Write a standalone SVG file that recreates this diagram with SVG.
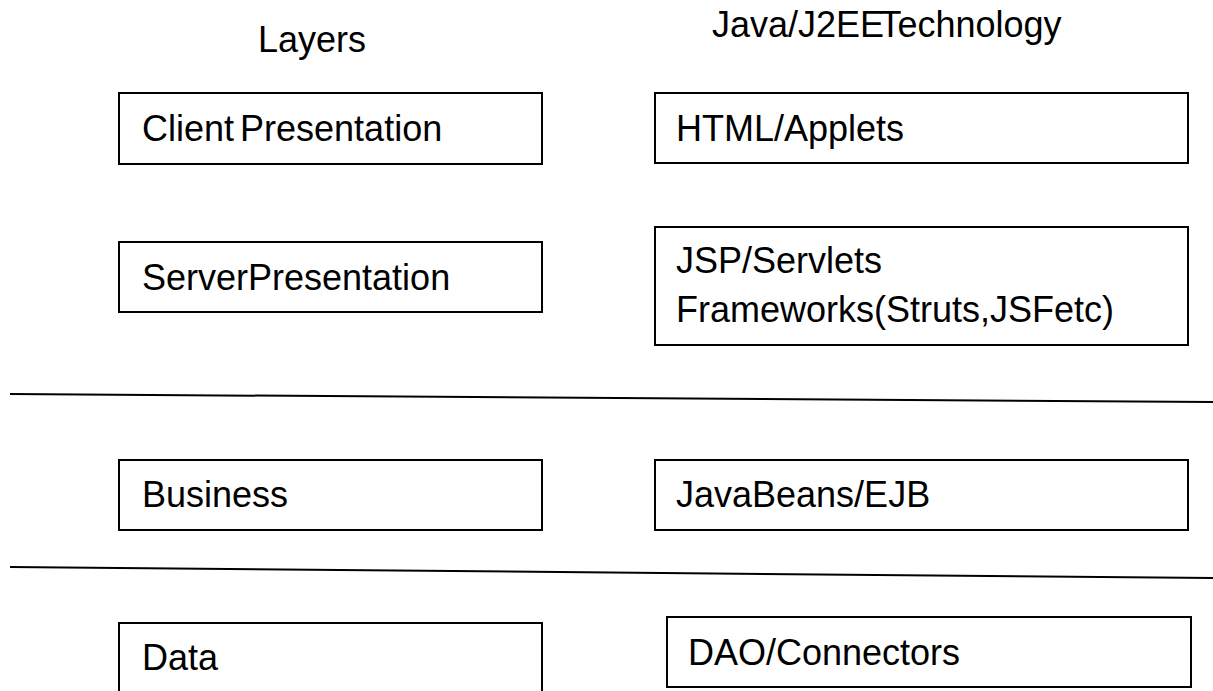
<svg xmlns="http://www.w3.org/2000/svg" width="1213" height="691" viewBox="0 0 1213 691">
<style>
.box{fill:#fff;stroke:#000;stroke-width:2}
.t{font-family:"Liberation Sans",Arial,sans-serif;font-size:36px;fill:#000}
.tight{word-spacing:-10px}
.sep{stroke:#000;stroke-width:2;fill:none}
</style>
<rect width="1213" height="691" fill="#fff"/>
<g id="titles">
<text class="t" x="258" y="52">Layers</text>
<text class="t" x="712" y="37" style="word-spacing:-14px">Java/J2EE Technology</text>
</g>
<g id="connectors">
<line class="sep" x1="10" y1="394" x2="1213" y2="402"/>
<line class="sep" x1="10" y1="567" x2="1213" y2="578"/>
</g>
<g id="client-presentation">
<rect class="box" x="119" y="93" width="423" height="71"/>
<text class="t" x="142" y="141" style="word-spacing:-4px">Client Presentation</text>
</g>
<g id="html-applets">
<rect class="box" x="655" y="93" width="533" height="70"/>
<text class="t" x="676" y="141">HTML/Applets</text>
</g>
<g id="server-presentation">
<rect class="box" x="119" y="242" width="423" height="70"/>
<text class="t tight" x="142" y="290">Server Presentation</text>
</g>
<g id="jsp-servlets">
<rect class="box" x="655" y="227" width="533" height="118"/>
<text class="t" x="676" y="273">JSP/Servlets</text>
<text class="t tight" x="676" y="322">Frameworks(Struts, JSF etc)</text>
</g>
<g id="business">
<rect class="box" x="119" y="460" width="423" height="70"/>
<text class="t" x="142" y="507">Business</text>
</g>
<g id="javabeans-ejb">
<rect class="box" x="655" y="460" width="533" height="70"/>
<text class="t" x="676" y="507">JavaBeans/EJB</text>
</g>
<g id="data">
<path class="box" d="M119,700 V623 H542 V700"/>
<text class="t" x="142" y="670">Data</text>
</g>
<g id="dao-connectors">
<rect class="box" x="667" y="617" width="524" height="70"/>
<text class="t" x="688" y="665">DAO/Connectors</text>
</g>
</svg>
